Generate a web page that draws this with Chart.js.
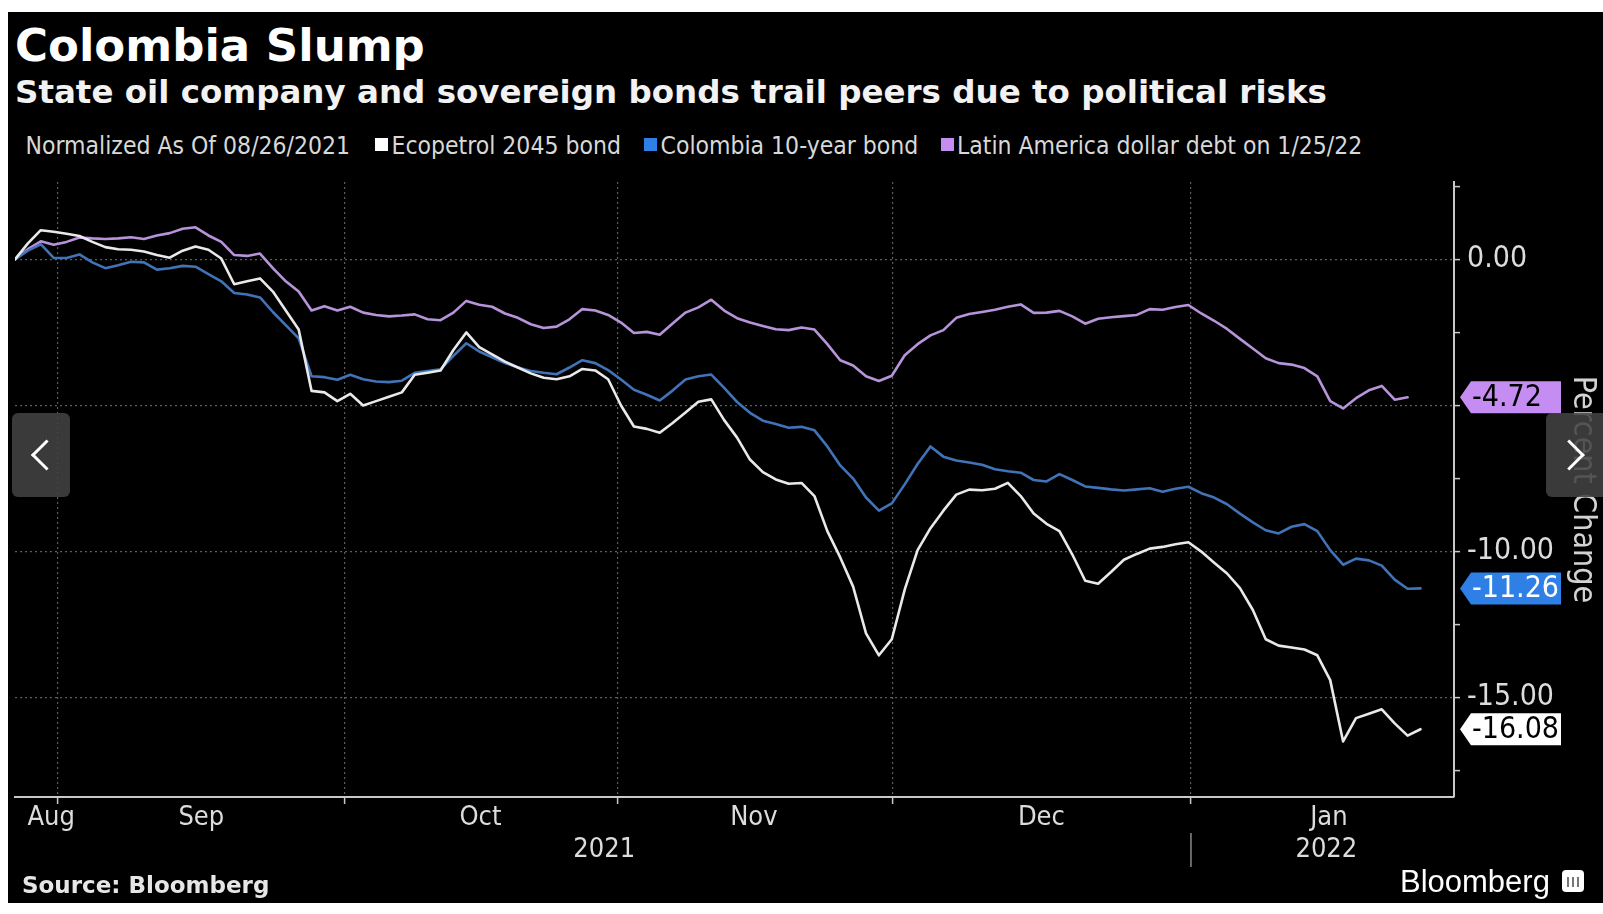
<!DOCTYPE html>
<html>
<head>
<meta charset="utf-8">
<title>Colombia Slump</title>
<script src="https://cdn.jsdelivr.net/npm/chart.js@4.4.1/dist/chart.umd.min.js"></script>
<style>
  html, body { margin: 0; padding: 0; background: #fff; }
  body { width: 1603px; height: 914px; position: relative; overflow: hidden; }
  #panel { position: absolute; left: 8px; top: 12px; width: 1595px; height: 891px; background: #000; }
  .t { position: absolute; white-space: nowrap; color: #fff; }
  #title { left: 15px; top: 23px; font: bold 45px/45px "DejaVu Sans", sans-serif; }
  #subtitle { left: 15px; top: 76px; font: bold 32.5px/32.5px "DejaVu Sans", sans-serif; color: #f2f2f2; }
  .legend { top: 133px; font: 24.5px/25px "DejaVu Sans Condensed", "Liberation Sans", sans-serif; color: #d8d8d8; }
  .swatch { position: absolute; top: 138px; width: 13px; height: 13px; }
  #chartBox { position: absolute; left: 8px; top: 160px; width: 1595px; height: 743px; }
  #source { left: 22px; top: 874px; font: bold 23px/23px "DejaVu Sans", sans-serif; color: #e6e6e6; }
  #brand { left: 1400px; top: 866px; font: 31px/31px "Liberation Sans", sans-serif; color: #fff; }
  #logo { position: absolute; left: 1562px; top: 870px; width: 22px; height: 22px; background: #fff; border-radius: 4px; }
  #logo::after { content: ''; position: absolute; left: 5px; top: 7px; width: 12px; height: 10px;
    background: linear-gradient(90deg, #777 0 2px, transparent 2px 5px, #777 5px 7px, transparent 7px 10px, #777 10px 12px); }
  .nav { position: absolute; top: 413px; height: 84px; background: rgba(66, 66, 66, 0.88); border-radius: 6px; }
  .nav::after { content: ''; position: absolute; top: 50%; left: 50%; width: 19px; height: 19px;
    border-left: 3px solid #fff; border-bottom: 3px solid #fff; }
  #navL { left: 12px; width: 58px; }
  #navL::after { transform: translate(-25%, -50%) rotate(45deg); }
  #navR { left: 1546px; width: 62px; }
  #navR::after { transform: translate(-85%, -50%) rotate(-135deg); }
</style>
</head>
<body>
<div id="panel"></div>
<div class="t" id="title">Colombia Slump</div>
<div class="t" id="subtitle">State oil company and sovereign bonds trail peers due to political risks</div>
<div class="t legend" style="left:25.5px">Normalized As Of 08/26/2021</div>
<div id="chartBox"><canvas id="chart" width="1595" height="743"></canvas></div>
<div class="t" id="source">Source: Bloomberg</div>
<div class="t" id="brand">Bloomberg</div>
<div id="logo"></div>
<div class="nav" id="navL"></div>
<div class="nav" id="navR"></div>

<script>
const FONT = '"DejaVu Sans Condensed", "Liberation Sans", Arial, sans-serif';

// Series, one value per business day from 08/26/2021 (index 0), percent change
const seriesLabels = ['Ecopetrol 2045 bond', 'Colombia 10-year bond', 'Latin America dollar debt on 1/25/22'];

const ecopetrol = [
  0, 0.55, 1.0, 0.95, 0.88, 0.8, 0.6, 0.42, 0.35, 0.33,
  0.27, 0.15, 0.06, 0.3, 0.44, 0.33, 0.03, -0.85, -0.75, -0.65,
  -1.1, -1.75, -2.4, -4.5, -4.55, -4.85, -4.6, -5.0, -4.85, -4.7,
  -4.55, -3.95, -3.88, -3.8, -3.1, -2.5, -3.0, -3.25, -3.5, -3.7,
  -3.9, -4.05, -4.1, -4.0, -3.75, -3.8, -4.1, -5.0, -5.72, -5.8,
  -5.93, -5.6, -5.24, -4.87, -4.79, -5.5, -6.1, -6.85, -7.28, -7.53,
  -7.68, -7.65, -8.1, -9.3, -10.2, -11.2, -12.8, -13.55, -13.0, -11.3,
  -9.95, -9.2, -8.6, -8.05, -7.88, -7.9, -7.85, -7.65, -8.1, -8.7,
  -9.05, -9.3, -10.1, -11.0, -11.1, -10.7, -10.28, -10.08, -9.9, -9.84,
  -9.75, -9.68, -10.0, -10.38, -10.75, -11.25, -12.0, -13.0, -13.22, -13.28,
  -13.35, -13.55, -14.4, -16.5, -15.7, -15.55, -15.4, -15.88, -16.3, -16.08
];

const colombia10y = [
  0, 0.3, 0.52, 0.05, 0.05, 0.17, -0.1, -0.3, -0.2, -0.08,
  -0.1, -0.35, -0.3, -0.22, -0.25, -0.5, -0.75, -1.15, -1.2, -1.3,
  -1.8, -2.25, -2.7, -4.0, -4.03, -4.12, -3.95, -4.1, -4.18, -4.2,
  -4.15, -3.88, -3.82, -3.76, -3.3, -2.87, -3.15, -3.35, -3.55, -3.7,
  -3.82, -3.88, -3.93, -3.7, -3.45, -3.55, -3.79, -4.11, -4.46, -4.63,
  -4.83, -4.49, -4.11, -4.0, -3.94, -4.4, -4.88, -5.25, -5.52, -5.63,
  -5.76, -5.73, -5.85, -6.4, -7.05, -7.5, -8.15, -8.6, -8.35, -7.7,
  -7.0, -6.4, -6.75, -6.88, -6.95, -7.03, -7.18, -7.25, -7.3, -7.55,
  -7.6, -7.35, -7.55, -7.77, -7.82, -7.87, -7.91, -7.87, -7.83, -7.95,
  -7.85, -7.78, -8.0, -8.15, -8.38, -8.7, -9.0, -9.27, -9.38, -9.15,
  -9.06, -9.3, -9.95, -10.45, -10.24, -10.3, -10.48, -10.96, -11.27, -11.26
];

const latamDebt = [
  0, 0.35, 0.62, 0.5, 0.6, 0.75, 0.72, 0.7, 0.72, 0.76,
  0.7, 0.82, 0.9, 1.05, 1.1, 0.82, 0.6, 0.15, 0.12, 0.2,
  -0.3, -0.75, -1.1, -1.75, -1.6, -1.75, -1.62, -1.82, -1.9, -1.95,
  -1.92, -1.88, -2.05, -2.08, -1.82, -1.42, -1.55, -1.62, -1.85, -2.0,
  -2.22, -2.35, -2.3, -2.05, -1.7, -1.75, -1.9, -2.16, -2.52, -2.48,
  -2.58, -2.19, -1.82, -1.64, -1.38, -1.75, -2.01, -2.16, -2.28, -2.39,
  -2.42, -2.33, -2.4, -2.9, -3.45, -3.63, -4.0, -4.16, -3.98, -3.28,
  -2.9, -2.6, -2.42, -2.0, -1.87, -1.8, -1.72, -1.62, -1.54, -1.83,
  -1.82, -1.76, -1.95, -2.2, -2.03, -1.98, -1.94, -1.9, -1.7, -1.72,
  -1.63, -1.56, -1.85, -2.1, -2.38, -2.72, -3.05, -3.38, -3.55, -3.6,
  -3.72, -4.0, -4.85, -5.1, -4.75, -4.48, -4.33, -4.8, -4.72
];

const lineColors = ['#e9e9e9', '#4173b8', '#b794da'];
const keyColors = ['#ffffff', '#2f80e6', '#c58df2'];
const tagTextColors = ['#000000', '#ffffff', '#000000'];

// x axis: business-day index positions
const monthLabels = ['Aug', 'Sep', 'Oct', 'Nov', 'Dec', 'Jan'];
const monthLabelPos = [2.8, 14.45, 36.1, 57.3, 79.6, 101.9];
const monthBounds = [3.3, 25.6, 46.7, 68.1, 91.2];
const yearLabels = ['2021', '2022'];
const yearLabelPos = [45.7, 101.7];
const yearBreak = 91.2;

// y axis
const yTicks = [2.5, 0, -2.5, -5, -7.5, -10, -12.5, -15, -17.5];

// header legend built from the series
const legendX = [375, 644, 940.5];
seriesLabels.forEach((label, i) => {
    const sw = document.createElement('div');
    sw.className = 'swatch';
    sw.style.left = legendX[i] + 'px';
    sw.style.background = keyColors[i];
    const tx = document.createElement('div');
    tx.className = 't legend';
    tx.style.left = (legendX[i] + 16.5) + 'px';
    tx.textContent = label;
    document.body.insertBefore(sw, document.getElementById('chartBox'));
    document.body.insertBefore(tx, document.getElementById('chartBox'));
});

const seriesData = [ecopetrol, colombia10y, latamDebt];
const lastValues = seriesData.map(s => s[s.length - 1]);

// end-of-line value tags, year row
const endTags = {
    id: 'endTags',
    afterDraw(chart) {
        const { ctx, chartArea, scales: { x, y } } = chart;
        ctx.save();

        ctx.font = '27px ' + FONT;
        ctx.fillStyle = '#dcdcdc';
        ctx.textAlign = 'center';
        ctx.textBaseline = 'middle';
        yearLabels.forEach((t, i) => {
            ctx.fillText(t, x.getPixelForValue(yearLabelPos[i]), chartArea.bottom + 53);
        });
        const sx = x.getPixelForValue(yearBreak);
        ctx.strokeStyle = '#8a8a8a';
        ctx.lineWidth = 1.5;
        ctx.beginPath();
        ctx.moveTo(sx, chartArea.bottom + 36);
        ctx.lineTo(sx, chartArea.bottom + 70);
        ctx.stroke();

        lastValues.forEach((v, i) => {
            const py = y.getPixelForValue(v);
            const x0 = chartArea.right + 6;
            const x1 = chartArea.right + 107;
            const h = 16;
            ctx.beginPath();
            ctx.moveTo(x0, py);
            ctx.lineTo(x0 + 11, py - h);
            ctx.lineTo(x1, py - h);
            ctx.lineTo(x1, py + h);
            ctx.lineTo(x0 + 11, py + h);
            ctx.closePath();
            ctx.fillStyle = keyColors[i];
            ctx.fill();
            ctx.font = '30px ' + FONT;
            ctx.fillStyle = tagTextColors[i];
            ctx.textAlign = 'left';
            ctx.fillText(v.toFixed(2), x0 + 12, py + 1);
        });
        ctx.restore();
    }
};

const isBound = v => monthBounds.some(b => Math.abs(b - v) < 1e-6);
const isFive = v => Math.abs(v % 5) < 1e-6;
const underTag = v => lastValues.some(l => Math.abs(l - v) < 0.8);

new Chart(document.getElementById('chart').getContext('2d'), {
    type: 'line',
    data: {
        datasets: seriesData.map((s, i) => ({
            label: seriesLabels[i],
            data: s.map((v, k) => ({ x: k, y: v })),
            borderColor: lineColors[i],
            borderWidth: 2.6,
            pointRadius: 0,
            tension: 0,
            borderJoinStyle: 'round',
            borderCapStyle: 'round'
        }))
    },
    options: {
        responsive: false,
        animation: false,
        layout: { padding: { left: 7, top: 14, right: 0, bottom: 0 } },
        plugins: { legend: { display: false }, tooltip: { enabled: false } },
        scales: {
            x: {
                type: 'linear',
                min: 0,
                max: 111.6,
                afterBuildTicks: s => {
                    s.ticks = monthBounds.concat(monthLabelPos).sort((a, b) => a - b).map(v => ({ value: v }));
                },
                afterFit: s => { s.height = 106; },
                grid: {
                    color: c => (c.tick && isBound(c.tick.value)) ? '#5c5c5c' : 'rgba(0,0,0,0)',
                    tickColor: c => (c.tick && isBound(c.tick.value)) ? '#c8c8c8' : 'rgba(0,0,0,0)',
                    lineWidth: 1.2,
                    tickLength: 7,
                    tickWidth: 1.5
                },
                border: { color: '#c8c8c8', width: 2, dash: [2, 3] },
                ticks: {
                    autoSkip: false,
                    maxRotation: 0,
                    padding: 0,
                    color: '#dcdcdc',
                    font: { family: FONT, size: 27, lineHeight: 1 },
                    callback: v => {
                        const k = monthLabelPos.findIndex(p => Math.abs(p - v) < 1e-6);
                        return k >= 0 ? monthLabels[k] : '';
                    }
                }
            },
            y: {
                position: 'right',
                min: -18.4,
                max: 2.65,
                afterBuildTicks: s => { s.ticks = yTicks.map(v => ({ value: v })); },
                afterFit: s => { s.width = 149; },
                grid: {
                    color: c => (c.tick && isFive(c.tick.value)) ? '#5c5c5c' : 'rgba(0,0,0,0)',
                    tickColor: '#c8c8c8',
                    lineWidth: 1.2,
                    tickLength: 6,
                    tickWidth: 1.5
                },
                border: { color: '#c8c8c8', width: 2, dash: [2, 3] },
                ticks: {
                    padding: 7,
                    color: '#dcdcdc',
                    font: { family: FONT, size: 30, lineHeight: 1 },
                    callback: v => (isFive(v) && !underTag(v)) ? v.toFixed(2) : ''
                },
                title: {
                    display: true,
                    text: 'Percent Change',
                    color: '#d2d2d2',
                    font: { family: FONT, size: 32, lineHeight: 1 },
                    padding: { top: 5, bottom: 0 }
                }
            }
        }
    },
    plugins: [endTags]
});
</script>
</body>
</html>
